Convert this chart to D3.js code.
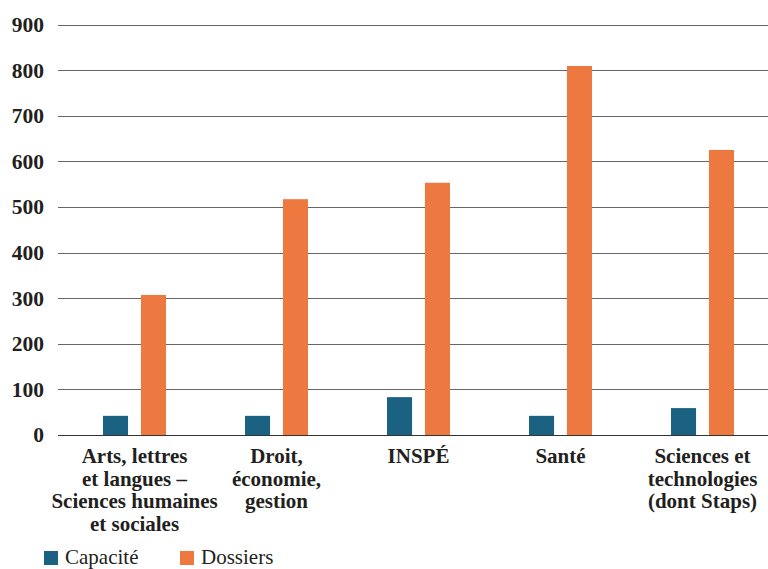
<!DOCTYPE html>
<html><head><meta charset="utf-8">
<script src="https://cdn.jsdelivr.net/npm/d3@7"></script>
<style>
body{margin:0;background:#fff}
svg{display:block}
svg text{font-family:"Liberation Serif" !important;}
</style>
</head><body>
<script>
const categories = [
  ["Arts, lettres", "et langues –", "Sciences humaines", "et sociales"],
  ["Droit,", "économie,", "gestion"],
  ["INSPÉ"],
  ["Santé"],
  ["Sciences et", "technologies", "(dont Staps)"]
];
const seriesNames = ["Capacité", "Dossiers"];
const capacite = [42, 42, 83, 42, 59];
const dossiers = [307, 517, 553, 809, 625];
const yTicks = [0, 100, 200, 300, 400, 500, 600, 700, 800, 900];
const colors = ["#1b6282", "#ee7940"];

const W = 768, H = 569;
const svg = d3.select("body").append("svg").attr("width", W).attr("height", H)
  .attr("font-family", "Liberation Serif");

const y = d3.scaleLinear().domain([0, 900]).range([435, 24.5]);
const x0 = d3.scaleBand().domain(d3.range(categories.length)).range([63.5, 773.5]).paddingInner(0).paddingOuter(0);
const x1 = d3.scaleBand().domain(seriesNames).range([-31.5, 31.5]).paddingInner(0.34).paddingOuter(0);

// gridlines
const gridG = svg.append("g");
gridG.selectAll("line").data(yTicks).join("line")
  .attr("x1", 58).attr("x2", W)
  .attr("y1", d => Math.round(y(d)) + 0.5).attr("y2", d => Math.round(y(d)) + 0.5)
  .attr("stroke", d => d === 0 ? "#333" : "#666").attr("stroke-width", 1);

// y axis labels
const yAxis = d3.axisLeft(y).tickValues(yTicks).tickSize(0).tickPadding(0);
const yg = svg.append("g").attr("transform", "translate(44,0)").call(yAxis);
yg.attr("font-family", null).attr("font-size", 21.5).attr("font-weight", "bold");
yg.select(".domain").remove();
yg.selectAll("text").attr("fill", "#231f20");

// bars
const data = categories.map((c, i) => ({i, vals: [capacite[i], dossiers[i]]}));
const groups = svg.append("g").selectAll("g").data(data).join("g")
  .attr("transform", d => `translate(${x0(d.i) + x0.bandwidth()/2},0)`);
groups.selectAll("rect").data(d => d.vals.map((v, k) => ({v, k})))
  .join("rect")
  .attr("x", d => x1(seriesNames[d.k]))
  .attr("width", x1.bandwidth())
  .attr("y", d => y(d.v))
  .attr("height", d => y(0) - y(d.v))
  .attr("fill", d => colors[d.k]);

// category labels
groups.append("text")
  .attr("text-anchor", "middle")
  .attr("font-weight", "bold").attr("font-size", 21)
  .attr("fill", "#231f20")
  .selectAll("tspan").data(d => categories[d.i]).join("tspan")
  .attr("x", 0).attr("y", (d, j) => 463 + j * 22.7)
  .text(d => d);

// legend
const legend = svg.append("g");
const lx = [44, 180];
seriesNames.forEach((s, k) => {
  legend.append("rect").attr("x", lx[k]).attr("y", 551).attr("width", 14).attr("height", 14).attr("fill", colors[k]);
  legend.append("text").attr("x", lx[k] + 21).attr("y", 564)
    .attr("font-size", 21).attr("fill", "#231f20").text(s);
});
</script>
</body></html>
